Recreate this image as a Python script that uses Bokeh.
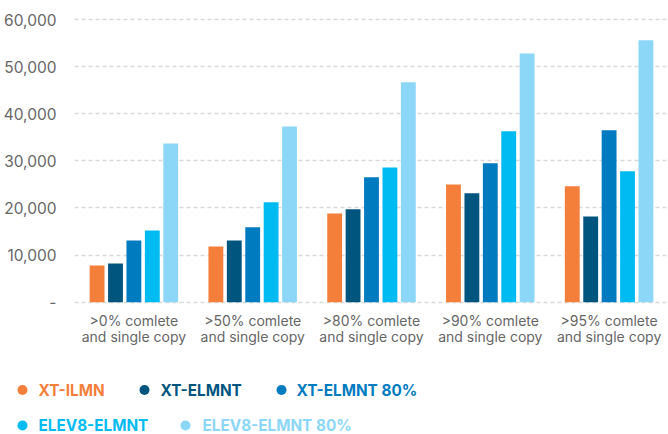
from bokeh.plotting import figure
from bokeh.models import ColumnDataSource, Range1d, FixedTicker
from bokeh.transform import dodge
from bokeh.layouts import column, row
from bokeh.core.properties import value
from bokeh.embed import file_html
from bokeh.resources import INLINE

categories = [">0% comlete\nand single copy", ">50% comlete\nand single copy",
              ">80% comlete\nand single copy", ">90% comlete\nand single copy",
              ">95% comlete\nand single copy"]
series_names = ["XT-ILMN", "XT-ELMNT", "XT-ELMNT 80%", "ELEV8-ELMNT", "ELEV8-ELMNT 80%"]
xt_ilmn = [7800, 11800, 18800, 25000, 24600]
xt_elmnt = [8200, 13100, 19700, 23100, 18200]
xt_elmnt_80 = [13100, 15900, 26500, 29500, 36500]
elev8_elmnt = [15200, 21200, 28600, 36300, 27800]
elev8_elmnt_80 = [33700, 37300, 46700, 52800, 55600]
y_ticks = [0, 10000, 20000, 30000, 40000, 50000, 60000]
y_tick_labels = ["-", "10,000", "20,000", "30,000", "40,000", "50,000", "60,000"]

colors = ["#F37F3B", "#00557F", "#007BBF", "#00BBF1", "#8CD7F7"]
FONT = "Inter"

series_values = [xt_ilmn, xt_elmnt, xt_elmnt_80, elev8_elmnt, elev8_elmnt_80]
keys = ["s0", "s1", "s2", "s3", "s4"]
data = {"cat": categories}
for k, v in zip(keys, series_values):
    data[k] = v
source = ColumnDataSource(data)

W = 668
p = figure(width=W, height=368, x_range=categories, y_range=Range1d(-500, 61500),
           output_backend="svg", toolbar_location=None,
           min_border_left=70, min_border_right=0, min_border_top=12, min_border_bottom=64)
p.outline_line_color = None
p.background_fill_color = "white"

for i, k in enumerate(keys):
    p.vbar(x=dodge("cat", (i - 2) * 0.155, range=p.x_range), top=k, width=0.125,
           source=source, color=colors[i], line_color=None)

p.xgrid.grid_line_color = None
p.ygrid.ticker = FixedTicker(ticks=y_ticks)
p.ygrid.grid_line_color = "#d9d9d9"
p.ygrid.grid_line_dash = "4 3"
p.ygrid.grid_line_width = 1.3

p.yaxis.ticker = FixedTicker(ticks=y_ticks)
p.yaxis.major_label_overrides = {t: l for t, l in zip(y_ticks, y_tick_labels)}
p.yaxis.axis_line_color = None
p.yaxis.major_tick_line_color = None
p.yaxis.minor_tick_line_color = None
p.yaxis.major_label_standoff = 12
p.yaxis.major_label_text_font = FONT
p.yaxis.major_label_text_font_size = "15.5px"
p.yaxis.major_label_text_color = "#666666"

p.xaxis.axis_line_color = None
p.xaxis.major_tick_line_color = None
p.xaxis.minor_tick_line_color = None
p.xaxis.major_label_standoff = 1
p.xaxis.major_label_text_font = FONT
p.xaxis.major_label_text_font_size = "14px"
p.xaxis.major_label_text_color = "#666666"
p.xaxis.major_label_text_line_height = 0.95

# legend strip: coordinates are pixels (x from left, y from top of this strip)
LH = 66
lg = figure(width=W, height=LH, x_range=Range1d(0, W), y_range=Range1d(LH, 0),
            output_backend="svg", toolbar_location=None,
            x_axis_location=None, y_axis_location=None,
            min_border=0, min_border_left=0, min_border_right=0,
            min_border_top=0, min_border_bottom=0)
lg.grid.visible = False
lg.outline_line_color = None

top = 368
dot_x = [22, 144, 281, 22, 185]
row_y = [389.5 - top, 389.5 - top, 389.5 - top, 425 - top, 425 - top]
txt_x = [38, 160, 296, 38, 202]
lsrc = ColumnDataSource(dict(dx=dot_x, dy=row_y, tx=txt_x, name=series_names, c=colors))
lg.scatter(x="dx", y="dy", size=10, color="c", line_color=None, source=lsrc)
lg.text(x="tx", y="dy", text="name", text_color="c", source=lsrc,
        text_font=value(FONT), text_font_size="15.3px", text_font_style="bold",
        text_baseline="middle", text_align="left")

layout = column(p, row(lg, spacing=0), spacing=0)
open("out.html", "w").write(file_html(layout, INLINE))
